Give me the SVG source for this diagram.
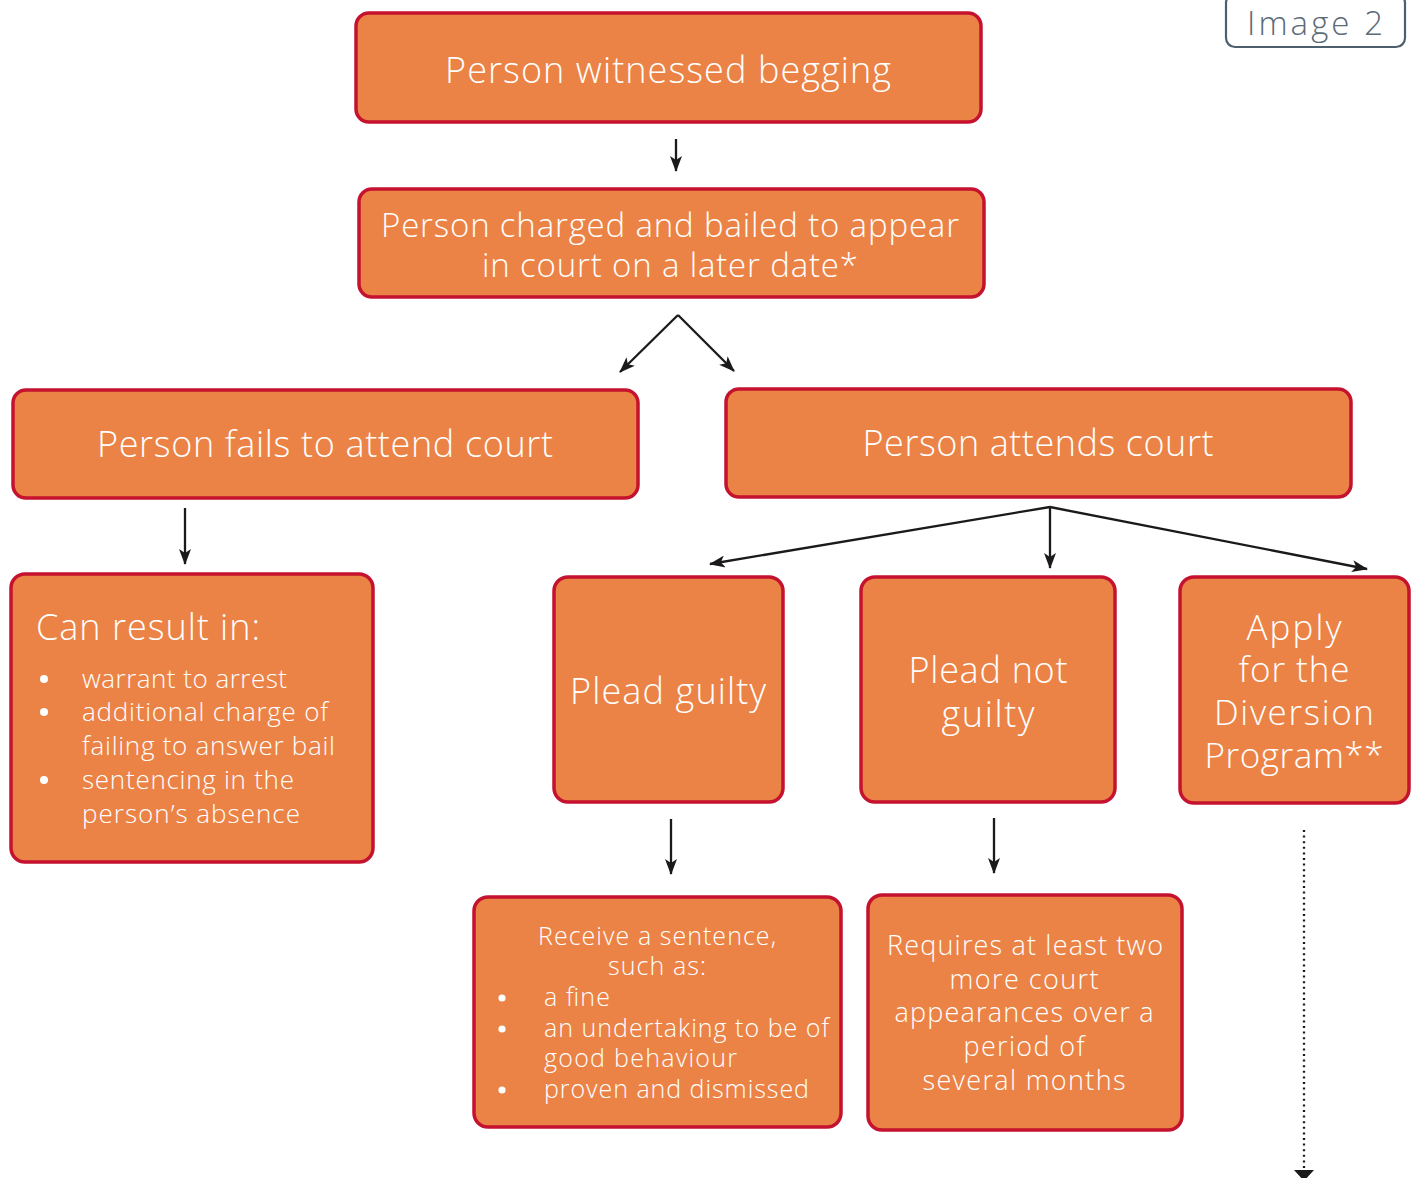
<svg xmlns="http://www.w3.org/2000/svg" width="1416" height="1178" viewBox="0 0 1416 1178">
<style>
.box{fill:#EC8346;stroke:#C4122F;stroke-width:3.5}
.t{fill:#ffffff;font-family:"Open Sans","Lato","Liberation Sans",sans-serif;font-weight:300}
.c{text-anchor:middle}
.ln{stroke:#1a1a1a;stroke-width:2.3;fill:none}
.b{fill:#ffffff}
</style>
<defs>
<marker id="ah" viewBox="0 0 16 12" refX="15" refY="6" markerWidth="16" markerHeight="12" markerUnits="userSpaceOnUse" orient="auto">
<path d="M0,0 L16,6 L0,12 L4,6 z" fill="#1a1a1a"/>
</marker>
</defs>
<rect width="1416" height="1178" fill="#ffffff"/>
<g id="label">
<rect x="1226" y="-6" width="179" height="53" rx="9" fill="#ffffff" stroke="#4d5f6d" stroke-width="2.2"/>
<text x="1315" y="35" text-anchor="middle" font-family="'Open Sans',Lato,'Liberation Sans',sans-serif" font-weight="300" font-size="33" fill="#5b6b78" textLength="136" lengthAdjust="spacing">Image 2</text>
</g>
<g id="connectors">
<line class="ln" x1="676" y1="139" x2="676" y2="171" marker-end="url(#ah)"/>
<line class="ln" x1="678" y1="315" x2="620" y2="372" marker-end="url(#ah)"/>
<line class="ln" x1="678" y1="315" x2="734" y2="371" marker-end="url(#ah)"/>
<line class="ln" x1="185" y1="508" x2="185" y2="564" marker-end="url(#ah)"/>
<line class="ln" x1="1050" y1="507" x2="710" y2="564" marker-end="url(#ah)"/>
<line class="ln" x1="1050" y1="507" x2="1050" y2="568" marker-end="url(#ah)"/>
<line class="ln" x1="1050" y1="507" x2="1367" y2="569" marker-end="url(#ah)"/>
<line class="ln" x1="671" y1="819" x2="671" y2="874" marker-end="url(#ah)"/>
<line class="ln" x1="994" y1="818" x2="994" y2="873" marker-end="url(#ah)"/>
<line class="ln" x1="1304" y1="830" x2="1304" y2="1170" stroke-dasharray="2 3.6"/>
<path d="M1294,1170 L1314,1170 L1304,1181 z" fill="#1a1a1a"/>
</g>
<g id="n1">
<rect class="box" x="356" y="13" width="625" height="109" rx="13"/>
<text class="t c" x="668" y="83" font-size="36" textLength="446" lengthAdjust="spacing">Person witnessed begging</text>
</g>
<g id="n2">
<rect class="box" x="359" y="189" width="625" height="108" rx="13"/>
<text class="t c" x="670" y="237" font-size="33" textLength="578" lengthAdjust="spacing">Person charged and bailed to appear</text>
<text class="t c" x="670" y="277" font-size="33" textLength="376" lengthAdjust="spacing">in court on a later date*</text>
</g>
<g id="n3">
<rect class="box" x="13" y="390" width="625" height="108" rx="13"/>
<text class="t c" x="325" y="457" font-size="36" textLength="456" lengthAdjust="spacing">Person fails to attend court</text>
</g>
<g id="n4">
<rect class="box" x="726" y="389" width="625" height="108" rx="13"/>
<text class="t c" x="1038" y="456" font-size="36" textLength="351" lengthAdjust="spacing">Person attends court</text>
</g>
<g id="n5">
<rect class="box" x="11" y="574" width="362" height="288" rx="14"/>
<text class="t" x="36" y="640" font-size="36" textLength="224" lengthAdjust="spacing">Can result in:</text>
<circle class="b" cx="44" cy="679" r="4"/>
<circle class="b" cx="44" cy="712" r="4"/>
<circle class="b" cx="44" cy="780" r="4"/>
<g font-size="26">
<text class="t" x="82" y="688" textLength="205" lengthAdjust="spacing">warrant to arrest</text>
<text class="t" x="82" y="721" textLength="246" lengthAdjust="spacing">additional charge of</text>
<text class="t" x="82" y="755" textLength="253" lengthAdjust="spacing">failing to answer bail</text>
<text class="t" x="82" y="789" textLength="212" lengthAdjust="spacing">sentencing in the</text>
<text class="t" x="82" y="823" textLength="218" lengthAdjust="spacing">person’s absence</text>
</g>
</g>
<g id="n6">
<rect class="box" x="554" y="577" width="229" height="225" rx="14"/>
<text class="t c" x="668" y="704" font-size="36" textLength="196" lengthAdjust="spacing">Plead guilty</text>
</g>
<g id="n7">
<rect class="box" x="861" y="577" width="254" height="225" rx="14"/>
<text class="t c" x="988" y="683" font-size="36" textLength="159" lengthAdjust="spacing">Plead not</text>
<text class="t c" x="988" y="727" font-size="36" textLength="93" lengthAdjust="spacing">guilty</text>
</g>
<g id="n8">
<rect class="box" x="1180" y="577" width="229" height="226" rx="14"/>
<text class="t c" x="1294" y="640" font-size="35" textLength="95" lengthAdjust="spacing">Apply</text>
<text class="t c" x="1294" y="682" font-size="35" textLength="111" lengthAdjust="spacing">for the</text>
<text class="t c" x="1294" y="725" font-size="35" textLength="160" lengthAdjust="spacing">Diversion</text>
<text class="t c" x="1294" y="768" font-size="35" textLength="179" lengthAdjust="spacing">Program**</text>
</g>
<g id="n9">
<rect class="box" x="474" y="897" width="367" height="230" rx="14"/>
<circle class="b" cx="502" cy="998" r="3.6"/>
<circle class="b" cx="502" cy="1029" r="3.6"/>
<circle class="b" cx="502" cy="1090" r="3.6"/>
<g font-size="25">
<text class="t c" x="657" y="945" textLength="238" lengthAdjust="spacing">Receive a sentence,</text>
<text class="t c" x="657" y="975" textLength="98" lengthAdjust="spacing">such as:</text>
<text class="t" x="544" y="1006" textLength="66" lengthAdjust="spacing">a fine</text>
<text class="t" x="544" y="1037" textLength="285" lengthAdjust="spacing">an undertaking to be of</text>
<text class="t" x="544" y="1067" textLength="193" lengthAdjust="spacing">good behaviour</text>
<text class="t" x="544" y="1098" textLength="265" lengthAdjust="spacing">proven and dismissed</text>
</g>
</g>
<g id="n10">
<rect class="box" x="868" y="895" width="314" height="235" rx="14"/>
<g font-size="27">
<text class="t c" x="1025" y="955" textLength="276" lengthAdjust="spacing">Requires at least two</text>
<text class="t c" x="1024" y="989" textLength="149" lengthAdjust="spacing">more court</text>
<text class="t c" x="1024" y="1022" textLength="259" lengthAdjust="spacing">appearances over a</text>
<text class="t c" x="1024" y="1056" textLength="121" lengthAdjust="spacing">period of</text>
<text class="t c" x="1024" y="1090" textLength="203" lengthAdjust="spacing">several months</text>
</g>
</g>
</svg>
